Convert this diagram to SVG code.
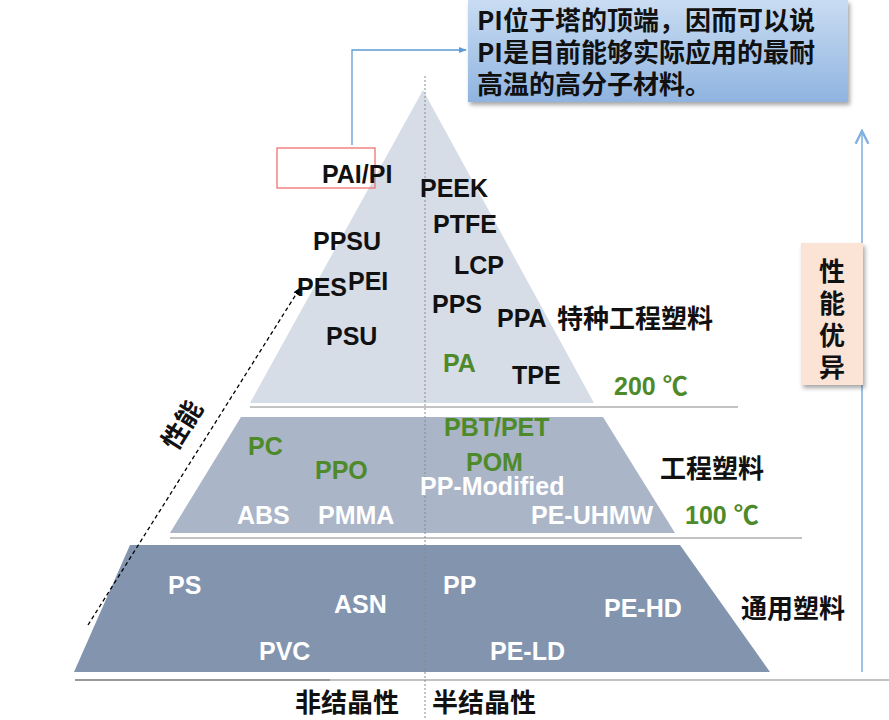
<svg xmlns="http://www.w3.org/2000/svg" width="889" height="720" viewBox="0 0 889 720">
  <defs>
    <linearGradient id="calloutFill" x1="0" y1="0" x2="0" y2="1">
      <stop offset="0" stop-color="#c9dcf2"/>
      <stop offset="1" stop-color="#8fb4e0"/>
    </linearGradient>
    <filter id="shadow" x="-10%" y="-10%" width="125%" height="130%">
      <feDropShadow dx="2" dy="3" stdDeviation="2" flood-color="#000" flood-opacity="0.35"/>
    </filter>
    <marker id="arrowBlue" viewBox="0 0 10 10" refX="9" refY="5" markerWidth="6" markerHeight="6" orient="auto">
      <path d="M0,1 L10,5 L0,9 z" fill="#5b9bd5"/>
    </marker>
    <marker id="arrowBlack" viewBox="0 0 10 10" refX="9" refY="5" markerWidth="6" markerHeight="6" orient="auto">
      <path d="M0,1 L10,5 L0,9 z" fill="#000"/>
    </marker>
    <marker id="arrowOpen" viewBox="0 0 10 10" refX="9" refY="5" markerWidth="8" markerHeight="8" orient="auto">
      <path d="M1,1 L9,5 L1,9" fill="none" stroke="#7fb0e0" stroke-width="1.5"/>
    </marker>
  </defs>
  <style>
    text { font-family: "Liberation Sans", "Noto Sans CJK SC", sans-serif; font-weight: bold; }
    .dark { fill: #111; font-size: 25px; }
    .green { fill: #4f8a2a; font-size: 25px; }
    .white { fill: #fff; font-size: 25px; }
    .cjk { fill: #111; font-size: 26px; font-family: "Noto Sans CJK SC", sans-serif; }
    .sep { stroke: #c3c3c3; stroke-width: 2; fill: none; }
  </style>

  <rect width="889" height="720" fill="#fff"/>

  <!-- pyramid tiers -->
  <g id="tier-special">
    <polygon points="423,90 594,403 250,403" fill="#d7dde7"/>
  </g>
  <g id="tier-engineering">
    <polygon points="241,417 603,417 675,533 170,533" fill="#aab5c8"/>
  </g>
  <g id="tier-general">
    <polygon points="130,545 680,545 770,672 74,672" fill="#8294ae"/>
  </g>

  <!-- tier separators and centre axis -->
  <g id="guides">
    <line class="sep" x1="250" y1="407" x2="738" y2="407"/>
    <line class="sep" x1="170" y1="538" x2="802" y2="538"/>
    <line class="sep" x1="75" y1="680" x2="889" y2="680"/>
    <line x1="75" y1="680" x2="330" y2="680" stroke="#9a9a9a" stroke-width="2"/>
    <line x1="425" y1="76" x2="425" y2="720" stroke="#8a8a8a" stroke-width="1" stroke-dasharray="2,2"/>
  </g>

  <!-- connectors -->
  <g id="connectors">
    <polyline points="352,145 352,50 466,50" fill="none" stroke="#5b9bd5" stroke-width="1.3" marker-end="url(#arrowBlue)"/>
    <line x1="88" y1="625" x2="300" y2="288" stroke="#000" stroke-width="1.3" stroke-dasharray="4,3" marker-end="url(#arrowBlack)"/>
    <line x1="862" y1="672" x2="862" y2="131" stroke="#9cc2e8" stroke-width="2" marker-end="url(#arrowOpen)"/>
  </g>

  <!-- callout -->
  <g id="callout">
    <rect x="468" y="0" width="380" height="102" fill="url(#calloutFill)" filter="url(#shadow)"/>
    <text class="cjk" x="477" y="30" font-size="27">PI位于塔的顶端，因而可以说</text>
    <text class="cjk" x="477" y="62" font-size="27">PI是目前能够实际应用的最耐</text>
    <text class="cjk" x="477" y="94" font-size="27">高温的高分子材料。</text>
  </g>

  <!-- highlight frame -->
  <g id="pi-highlight">
    <rect x="277" y="148" width="98" height="40" fill="none" stroke="#f07070" stroke-width="1.3"/>
  </g>

  <!-- side label -->
  <g id="performance-label">
    <rect x="801" y="243" width="62" height="142" fill="#fbe3d6" filter="url(#shadow)"/>
    <text class="cjk" x="832" y="281" text-anchor="middle" font-size="25">性</text>
    <text class="cjk" x="832" y="313" text-anchor="middle" font-size="25">能</text>
    <text class="cjk" x="832" y="345" text-anchor="middle" font-size="25">优</text>
    <text class="cjk" x="832" y="377" text-anchor="middle" font-size="25">异</text>
  </g>

  <g id="axis-label">
    <text class="cjk" transform="translate(190,430) rotate(-58)" text-anchor="middle" font-size="27">性能</text>
  </g>

  <!-- special engineering plastics -->
  <g id="special-plastics">
    <text class="dark" x="322" y="183">PAI/PI</text>
    <text class="dark" x="420" y="197">PEEK</text>
    <text class="dark" x="433" y="233">PTFE</text>
    <text class="dark" x="313" y="250">PPSU</text>
    <text class="dark" x="454" y="274">LCP</text>
    <text class="dark" x="297" y="296">PES</text>
    <text class="dark" x="348" y="290">PEI</text>
    <text class="dark" x="432" y="313">PPS</text>
    <text class="dark" x="497" y="327">PPA</text>
    <text class="cjk" x="557" y="328">特种工程塑料</text>
    <text class="dark" x="326" y="345">PSU</text>
    <text class="green" x="443" y="372">PA</text>
    <text class="dark" x="512" y="384">TPE</text>
    <text class="green" x="614" y="395" font-size="26">200 ℃</text>
  </g>

  <!-- engineering plastics -->
  <g id="engineering-plastics">
    <text class="green" x="248" y="455">PC</text>
    <text class="green" x="444" y="436">PBT/PET</text>
    <text class="green" x="315" y="479">PPO</text>
    <text class="green" x="466" y="471">POM</text>
    <text class="cjk" x="660" y="478">工程塑料</text>
    <text class="white" x="420" y="495" font-size="28">PP-Modified</text>
    <text class="white" x="237" y="524">ABS</text>
    <text class="white" x="318" y="524">PMMA</text>
    <text class="white" x="531" y="524">PE-UHMW</text>
    <text class="green" x="685" y="524" font-size="26">100 ℃</text>
  </g>

  <!-- general plastics -->
  <g id="general-plastics">
    <text class="white" x="168" y="594">PS</text>
    <text class="white" x="334" y="613">ASN</text>
    <text class="white" x="443" y="594">PP</text>
    <text class="white" x="604" y="617">PE-HD</text>
    <text class="cjk" x="741" y="618">通用塑料</text>
    <text class="white" x="259" y="660">PVC</text>
    <text class="white" x="490" y="660">PE-LD</text>
  </g>

  <!-- crystallinity labels -->
  <g id="crystallinity">
    <text class="cjk" x="295" y="712">非结晶性</text>
    <text class="cjk" x="432" y="712">半结晶性</text>
  </g>
</svg>
